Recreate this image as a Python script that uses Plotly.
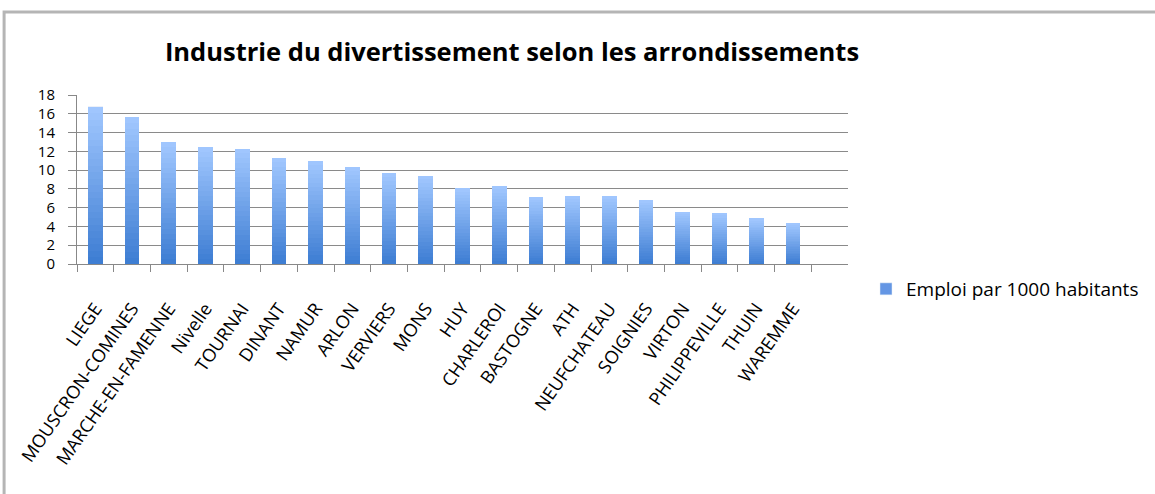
import plotly.graph_objects as go

categories = ["LIEGE", "MOUSCRON-COMINES", "MARCHE-EN-FAMENNE", "Nivelle", "TOURNAI",
              "DINANT", "NAMUR", "ARLON", "VERVIERS", "MONS", "HUY", "CHARLEROI",
              "BASTOGNE", "ATH", "NEUFCHATEAU", "SOIGNIES", "VIRTON", "PHILIPPEVILLE",
              "THUIN", "WAREMME"]
values = [16.75, 15.7, 12.95, 12.45, 12.3, 11.3, 10.95, 10.3, 9.65, 9.4, 8.05, 8.3,
          7.15, 7.2, 7.2, 6.8, 5.55, 5.4, 4.85, 4.35]
series_name = "Emploi par 1000 habitants"
y_ticks = list(range(0, 19, 2))

W, H = 1155, 494
L, R, T, B = 77, 306, 95, 230
pw, ph = W - L - R, H - T - B

FONT = "Open Sans"
dark = (60, 124, 210)
light = (162, 200, 255)
N = 24

fig = go.Figure()
for i in range(N):
    f = (i + 0.5) / N
    c = tuple(round(dark[k] + (light[k] - dark[k]) * f) for k in range(3))
    fig.add_trace(go.Bar(
        x=categories, y=[v / N for v in values],
        marker=dict(color="rgb(%d,%d,%d)" % c, line=dict(width=0)),
        name=series_name, showlegend=False, hoverinfo="skip",
    ))
# legend entry
fig.add_trace(go.Bar(x=[categories[0]], y=[0], name=series_name,
                     marker=dict(color="rgb(100,150,228)"), showlegend=True, hoverinfo="skip"))

fig.update_layout(
    width=W, height=H, barmode="stack", bargap=0.6,
    margin=dict(l=L, r=R, t=T, b=B),
    paper_bgcolor="white", plot_bgcolor="white",
    font=dict(family=FONT, color="black", size=15),
    title=dict(text="<b>Industrie du divertissement selon les arrondissements</b>",
               x=512 / W, xanchor="center", y=1 - 52 / H, yanchor="middle",
               font=dict(size=25.5, family=FONT, color="black")),
    legend=dict(x=(866 - L) / pw, xanchor="left", y=(H - B - 289) / ph, yanchor="middle",
                font=dict(size=19, family=FONT), itemwidth=30, traceorder="reversed",
                bgcolor="rgba(0,0,0,0)"),
    showlegend=True,
)
fig.update_xaxes(
    type="category", categoryorder="array", categoryarray=categories,
    range=[-0.5, len(categories) + 0.5], tickangle=-55, tickson="boundaries",
    ticks="outside", ticklen=7, tickcolor="#888", showline=True, linecolor="#888",
    linewidth=1, showgrid=False, tickfont=dict(size=18, family=FONT),
    ticklabelstandoff=26,
)
fig.update_yaxes(
    range=[0, 18], tickvals=y_ticks, ticks="outside", ticklen=8, tickcolor="#888",
    showline=True, linecolor="#888", linewidth=1, showgrid=True, gridcolor="#8a8a8a",
    gridwidth=1, zeroline=False, tickfont=dict(size=15, family=FONT),
    ticklabelstandoff=10,
)
# outer chart frame
fig.add_shape(type="rect", xref="paper", yref="paper",
              x0=(4 - L) / pw, x1=(W + 10 - L) / pw,
              y0=(H - B - (H + 10)) / ph, y1=(H - B - 12) / ph,
              line=dict(color="#b5b5b5", width=3), fillcolor="rgba(0,0,0,0)", layer="below")

fig.write_html("out.html")
